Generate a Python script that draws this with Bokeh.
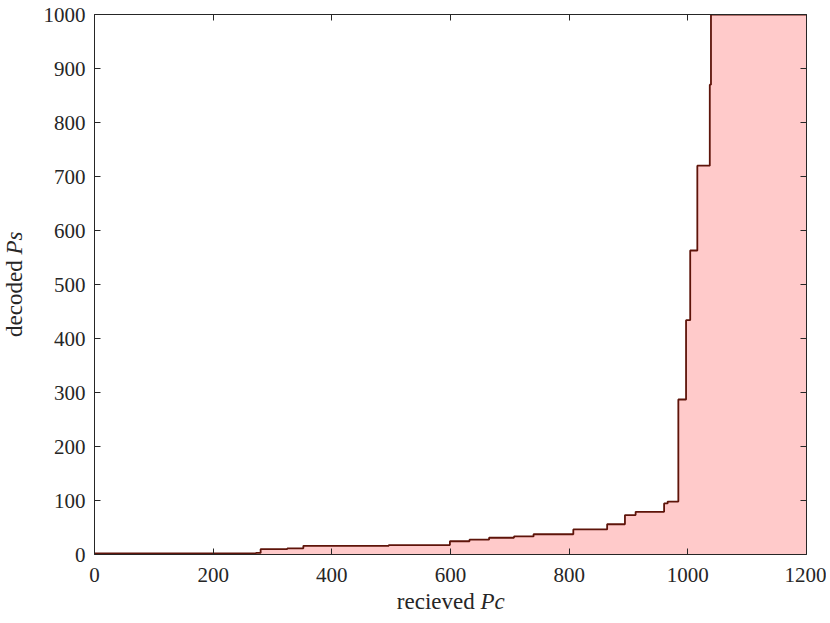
import math
from bokeh.plotting import figure
from bokeh.layouts import row, column
from bokeh.models import Range1d, LinearAxis, FixedTicker, Label
from bokeh.embed import file_html
from bokeh.resources import INLINE

# ---- data (stairs: value holds from x[i] to x[i+1]) ----
pc_received = [0, 272, 280, 325, 352, 496, 599, 632, 665, 707, 740, 807, 864,
               894, 912, 960, 966, 984, 997, 1004, 1016, 1037, 1039, 1200]
ps_decoded = [2, 3, 10, 11.5, 16, 17.5, 24.5, 27.5, 31, 33.5, 37.5, 46.5, 56,
              73, 79, 94.5, 98, 287, 434, 563, 720, 870, 1000, 1000]
x_ticks = [0, 200, 400, 600, 800, 1000, 1200]
y_ticks = [0, 100, 200, 300, 400, 500, 600, 700, 800, 900, 1000]

AX = "#262626"
FONT = "Liberation Serif"

W, H = 826, 619          # whole page block
YW = 40                  # strip for the y title
MH = 586                 # main figure height
MW = W - YW              # main figure width
XH = H - MH              # strip for the x title

p = figure(width=MW, height=MH, output_backend="svg", toolbar_location=None,
           x_range=Range1d(0, 1200), y_range=Range1d(0, 1000),
           min_border_left=93 - YW, min_border_right=W - 806, min_border_top=14,
           min_border_bottom=MH - 554)
p.outline_line_color = None
p.xgrid.visible = False
p.ygrid.visible = False
p.background_fill_color = "white"
p.border_fill_color = "white"

p.varea_step(x=pc_received, y1=[0] * len(pc_received), y2=ps_decoded,
             step_mode="after", fill_color="#FFCACA", fill_alpha=1.0)
p.step(pc_received, ps_decoded, mode="after", line_color="#5e140a", line_width=1.8)


def style(ax, ticks, labels=True):
    ax.ticker = FixedTicker(ticks=ticks)
    ax.axis_line_color = AX
    ax.axis_line_width = 1
    ax.major_tick_line_color = AX
    ax.major_tick_in = 6
    ax.major_tick_out = 0
    ax.minor_tick_line_color = None
    if labels:
        ax.major_label_text_font = FONT
        ax.major_label_text_font_size = "21px"
        ax.major_label_text_color = AX
    else:
        ax.major_label_overrides = {t: "" for t in ticks}
        ax.major_label_standoff = 0


style(p.xaxis[0], x_ticks)
p.xaxis[0].major_label_standoff = 13
style(p.yaxis[0], y_ticks)
p.yaxis[0].major_label_standoff = 9

top = LinearAxis()
style(top, x_ticks, labels=False)
p.add_layout(top, "above")
right = LinearAxis()
style(right, y_ticks, labels=False)
p.add_layout(right, "right")


def strip(w, h):
    f = figure(width=w, height=h, output_backend="svg", toolbar_location=None,
               x_axis_type=None, y_axis_type=None,
               x_range=Range1d(0, w), y_range=Range1d(0, h),
               min_border=0)
    f.outline_line_color = None
    f.xgrid.visible = False
    f.ygrid.visible = False
    f.border_fill_color = "white"
    f.background_fill_color = "white"
    return f


common = dict(text_font=FONT, text_font_size="23px", text_color=AX,
              text_baseline="middle", x_units="canvas", y_units="canvas")

# y title: "decoded Ps" (rotated), split point at page y ~254
ys = strip(YW, H)
ys.add_layout(Label(x=14, y=254, text="decoded ", angle=math.pi / 2,
                    text_align="right", **common))
ys.add_layout(Label(x=14, y=254, text="Ps", angle=math.pi / 2,
                    text_font_style="italic", text_align="left", **common))

# x title: "recieved Pc", split point at page x ~480
xs = strip(MW, XH)
xs.add_layout(Label(x=480 - YW, y=601 - MH, text="recieved ",
                    text_align="right", **common))
xs.add_layout(Label(x=480 - YW, y=601 - MH, text="Pc",
                    text_font_style="italic", text_align="left", **common))

layout = row(ys, column(p, xs, spacing=0), spacing=0)

open("out.html", "w").write(file_html(layout, INLINE))
